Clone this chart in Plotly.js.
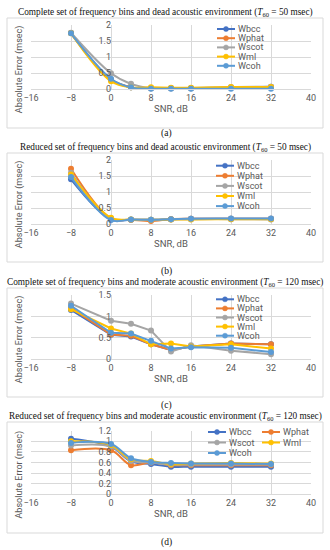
<!DOCTYPE html>
<html><head><meta charset="utf-8">
<script src="https://cdn.plot.ly/plotly-3.0.1.min.js"></script>
<style>html,body{margin:0;padding:0;background:#fff}#chart{width:330px;height:550px}</style>
</head><body><div id="chart"></div>
<script>
const snr = [-8, 0, 4, 8, 12, 16, 24, 32];
const seriesNames = ['Wbcc', 'Wphat', 'Wscot', 'Wml', 'Wcoh'];
const panelTitles = [
  'Complete set of frequency bins and dead acoustic environment (<i>T</i><sub>60</sub> = 50 msec)',
  'Reduced set of frequency bins and dead acoustic environment (<i>T</i><sub>60</sub> = 50 msec)',
  'Complete set of frequency bins and moderate acoustic environment (<i>T</i><sub>60</sub> = 120 msec)',
  'Reduced set of frequency bins and moderate acoustic environment (<i>T</i><sub>60</sub> = 120 msec)'
];
const panelLabels = ['(a)', '(b)', '(c)', '(d)'];
const xTicks = [-16, -8, 0, 8, 16, 24, 32, 40];

// Panel (a)
const aWbcc  = [1.75, 0.30, 0.06, 0.03, 0.03, 0.03, 0.05, 0.08];
const aWphat = [1.75, 0.30, 0.06, 0.03, 0.03, 0.03, 0.05, 0.07];
const aWscot = [1.76, 0.50, 0.17, 0.04, 0.04, 0.04, 0.07, 0.08];
const aWml   = [1.74, 0.25, 0.06, 0.06, 0.05, 0.05, 0.07, 0.07];
const aWcoh  = [1.74, 0.33, 0.06, 0.02, 0.02, 0.02, 0.02, 0.02];
// Panel (b)
const bWbcc  = [1.40, 0.15, 0.14, 0.14, 0.16, 0.17, 0.17, 0.17];
const bWphat = [1.73, 0.18, 0.14, 0.10, 0.16, 0.17, 0.17, 0.17];
const bWscot = [1.60, 0.17, 0.15, 0.14, 0.15, 0.16, 0.16, 0.15];
const bWml   = [1.55, 0.20, 0.15, 0.14, 0.15, 0.15, 0.16, 0.16];
const bWcoh  = [1.47, 0.13, 0.15, 0.14, 0.16, 0.17, 0.18, 0.18];
// Panel (c)
const cWbcc  = [1.15, 0.57, 0.53, 0.35, 0.22, 0.30, 0.37, 0.35];
const cWphat = [1.20, 0.58, 0.55, 0.35, 0.22, 0.30, 0.37, 0.35];
const cWscot = [1.30, 0.90, 0.83, 0.67, 0.18, 0.33, 0.20, 0.12];
const cWml   = [1.17, 0.72, 0.60, 0.35, 0.37, 0.30, 0.35, 0.25];
const cWcoh  = [1.25, 0.62, 0.60, 0.43, 0.25, 0.28, 0.27, 0.17];
// Panel (d)
const dWbcc  = [1.05, 0.90, 0.62, 0.57, 0.52, 0.52, 0.52, 0.52];
const dWphat = [0.83, 0.83, 0.55, 0.60, 0.55, 0.55, 0.55, 0.55];
const dWscot = [0.92, 0.90, 0.63, 0.60, 0.56, 0.56, 0.56, 0.56];
const dWml   = [1.00, 0.93, 0.66, 0.63, 0.57, 0.58, 0.59, 0.58];
const dWcoh  = [0.97, 0.95, 0.68, 0.61, 0.59, 0.58, 0.58, 0.57];

const panelData = [
  [aWbcc, aWphat, aWscot, aWml, aWcoh],
  [bWbcc, bWphat, bWscot, bWml, bWcoh],
  [cWbcc, cWphat, cWscot, cWml, cWcoh],
  [dWbcc, dWphat, dWscot, dWml, dWcoh]
];

// ---- styling / layout ----
const colors = ['#4472C4', '#ED7D31', '#A5A5A5', '#FFC000', '#5B9BD5'];
const W = 330, H = 550;
const yMax = [2, 2, 1.5, 1.2];
const yDtick = [0.5, 0.5, 0.5, 0.2];
const shapeMode = ['spline', 'spline', 'linear', 'spline'];
const plotTop = [25, 160, 295, 430.7];
const plotBot = [89.3, 224.3, 359.3, 494.3];
const titleY = [12, 147, 282, 416];
const boxTop = [18, 153, 288, 422];
const boxBot = [128, 262, 397, 533];
const labelY = [133, 271, 405, 542];
const plotLeft = 31, plotRight = 311;
const px = v => v / W, py = v => 1 - v / H;
const zeroX = plotLeft + (0 - (-16)) / 56 * (plotRight - plotLeft);

const legendCfg = [
  {items: [[217, 29], [217, 38.2], [217, 47.4], [217, 56.6], [217, 65.8]]},
  {items: [[216, 165.7], [216, 175.8], [216, 185.9], [216, 196], [216, 206.1]]},
  {items: [[216, 299.3], [216, 308.4], [216, 317.5], [216, 326.6], [216, 335.7]]},
  {items: [[208, 432], [262, 432], [208, 442.5], [262, 442.5], [208, 453]]}
];

const gridC = '#D9D9D9', tickC = '#595959';
const sansFont = 'Roboto, "Liberation Sans", sans-serif';
const serifFont = '"Liberation Serif", "DejaVu Serif", serif';

const traces = [];
const layout = {
  width: W, height: H, margin: {l: 0, r: 0, t: 0, b: 0},
  paper_bgcolor: '#fff', plot_bgcolor: '#fff', showlegend: false,
  annotations: [], shapes: []
};

for (let p = 0; p < 4; p++) {
  const sfx = p === 0 ? '' : String(p + 1);
  const xa = 'x' + sfx, ya = 'y' + sfx;
  layout['xaxis' + sfx] = {
    domain: [px(plotLeft), px(plotRight)], anchor: ya, range: [-16, 40],
    tickmode: 'array', tickvals: xTicks, showgrid: true, gridcolor: gridC, gridwidth: 1,
    zeroline: false, showline: true, linecolor: gridC, ticks: '',
    tickfont: {family: sansFont, size: 9, color: tickC},
    title: {text: 'SNR, dB', font: {family: sansFont, size: 9.5, color: tickC}, standoff: 2},
    fixedrange: true
  };
  layout['yaxis' + sfx] = {
    domain: [py(plotBot[p]), py(plotTop[p])], anchor: 'free', position: px(zeroX),
    range: [0, yMax[p]], dtick: yDtick[p], tick0: 0,
    showgrid: true, gridcolor: gridC, gridwidth: 1, zeroline: false, showline: false, ticks: '',
    tickfont: {family: sansFont, size: 9, color: tickC}, fixedrange: true
  };
  panelData[p].forEach((vals, s) => {
    traces.push({
      type: 'scatter', mode: 'lines+markers', x: snr, y: vals, name: seriesNames[s],
      xaxis: xa, yaxis: ya, cliponaxis: false,
      line: {color: colors[s], width: 2, shape: shapeMode[p], smoothing: 1},
      marker: {color: colors[s], size: 6, symbol: 'circle'}
    });
  });
  layout.shapes.push({type: 'rect', xref: 'paper', yref: 'paper',
    x0: px(7), x1: px(323), y0: py(boxBot[p]), y1: py(boxTop[p]),
    line: {color: gridC, width: 1}, fillcolor: 'rgba(0,0,0,0)', layer: 'below'});
  layout.annotations.push({xref: 'paper', yref: 'paper', x: 0.5, y: py(titleY[p]),
    text: panelTitles[p], showarrow: false, xanchor: 'center', yanchor: 'middle',
    font: {family: serifFont, size: 9.3, color: '#111'}});
  layout.annotations.push({xref: 'paper', yref: 'paper', x: px(166), y: py(labelY[p]),
    text: panelLabels[p], showarrow: false, xanchor: 'center', yanchor: 'middle',
    font: {family: serifFont, size: 9.5, color: '#111'}});
  layout.annotations.push({xref: 'paper', yref: 'paper', x: px(19), y: py((plotTop[p] + plotBot[p]) / 2 + 12),
    text: 'Absolute Error (msec)', showarrow: false, textangle: -90, xanchor: 'center', yanchor: 'middle',
    font: {family: sansFont, size: 9, color: tickC}});
  legendCfg[p].items.forEach(([lx, ly], s) => {
    layout.shapes.push({type: 'line', xref: 'paper', yref: 'paper',
      x0: px(lx), x1: px(lx + 18), y0: py(ly), y1: py(ly), line: {color: colors[s], width: 2}});
    layout.shapes.push({type: 'circle', xref: 'paper', yref: 'paper',
      x0: px(lx + 6.5), x1: px(lx + 11.5), y0: py(ly + 2.5), y1: py(ly - 2.5),
      line: {color: colors[s], width: 0.5}, fillcolor: colors[s]});
    layout.annotations.push({xref: 'paper', yref: 'paper', x: px(lx + 20), y: py(ly),
      text: seriesNames[s], showarrow: false, xanchor: 'left', yanchor: 'middle',
      borderpad: 0, font: {family: sansFont, size: 9, color: tickC}});
  });
}

Plotly.newPlot('chart', traces, layout, {staticPlot: true, displayModeBar: false});
</script>
</body></html>
